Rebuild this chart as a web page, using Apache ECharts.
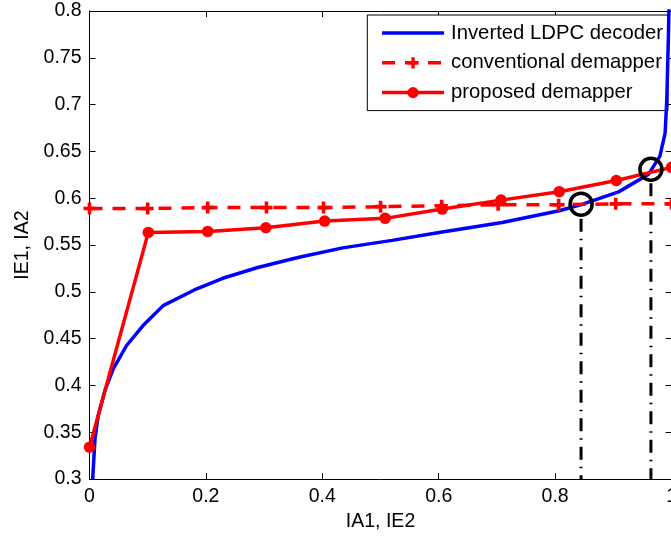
<!DOCTYPE html>
<html>
<head>
<meta charset="utf-8">
<script src="https://cdn.jsdelivr.net/npm/echarts@6/dist/echarts.min.js"></script>
<style>
html,body{margin:0;padding:0;overflow:hidden;background:#fff;width:671px;height:537px;}
#c{width:680px;height:537px;}
</style>
</head>
<body>
<div id="c"></div>
<script>
// ---- data ----
const seriesNames = ['Inverted LDPC decoder', 'conventional demapper', 'proposed demapper'];

const ldpcX = [0.0055, 0.0094, 0.015, 0.0266, 0.0408, 0.0637, 0.092, 0.1265, 0.18, 0.229, 0.289, 0.36, 0.435, 0.52, 0.6007, 0.709, 0.807, 0.8435, 0.909, 0.9606, 0.98, 0.989, 0.9918, 0.9947, 0.997];
const ldpcY = [0.3, 0.343, 0.368, 0.3947, 0.4178, 0.4427, 0.464, 0.4853, 0.502, 0.5145, 0.526, 0.537, 0.547, 0.555, 0.5635, 0.574, 0.5866, 0.593, 0.6068, 0.6257, 0.645, 0.67, 0.7056, 0.777, 0.85];

const convX = [0, 0.1, 0.203, 0.304, 0.402, 0.5, 0.605, 0.702, 0.806, 0.904, 1.0];
const convY = [0.589, 0.589, 0.590, 0.590, 0.590, 0.591, 0.592, 0.593, 0.593, 0.594, 0.594];

const propX = [0, 0.101, 0.203, 0.303, 0.404, 0.508, 0.606, 0.707, 0.807, 0.905, 1.0];
const propY = [0.334, 0.5635, 0.5646, 0.5685, 0.5756, 0.5785, 0.5884, 0.598, 0.607, 0.619, 0.633];

const circleX = [0.8445, 0.9645];
const circleY = [0.5937, 0.631];
const dropTopY = [0.578, 0.616];
const axisBottom = 0.3;

const xTicks = {min: 0, max: 1, interval: 0.2};
const yTicks = {min: 0.3, max: 0.8, interval: 0.05};

// ---- chart ----
const FONT = 'Liberation Sans';
const zip = (a, b) => a.map((v, i) => [v, b[i]]);
const plusPath = 'path://M3.5,0H6.5V3.5H10V6.5H6.5V10H3.5V6.5H0V3.5H3.5Z';

const axisCommon = {
  axisLine: {show: true, onZero: false, lineStyle: {color: '#000', width: 1}},
  axisTick: {show: true, inside: true, length: 6, lineStyle: {color: '#000', width: 1}},
  splitLine: {show: false}
};

const dropSeries = circleX.map((x, i) => ({
  type: 'line',
  data: [[x, dropTopY[i]], [x, axisBottom]],
  symbol: 'none',
  silent: true,
  z: 3,
  lineStyle: {color: '#000', width: 3, type: [13, 7, 1.5, 7]}
}));

const chart = echarts.init(document.getElementById('c'), null, {renderer: 'canvas'});
chart.setOption({
  animation: false,
  backgroundColor: '#fff',
  textStyle: {fontFamily: FONT},
  grid: {left: 89.5, top: 11, right: 6.5, bottom: 56.5, containLabel: false},
  legend: {
    data: [
      {name: seriesNames[0], itemStyle: {opacity: 0}},
      {name: seriesNames[1]},
      {name: seriesNames[2]}
    ],
    orient: 'vertical',
    left: 367.3,
    top: 15,
    padding: [8, 5, 8, 13],
    itemGap: 9.8,
    itemWidth: 62,
    itemHeight: 14,
    lineStyle: {width: 3.5},
    backgroundColor: '#fff',
    borderColor: '#000',
    borderWidth: 1,
    borderRadius: 0,
    textStyle: {fontFamily: FONT, fontSize: 20.3, color: '#000', lineHeight: 19, padding: [0, 0, 0, 2]}
  },
  xAxis: [
    Object.assign({
      type: 'value', position: 'bottom', min: xTicks.min, max: xTicks.max, interval: xTicks.interval,
      name: 'IA1, IE2', nameLocation: 'middle', nameGap: 30,
      nameTextStyle: {fontFamily: FONT, fontSize: 19.5, color: '#000'},
      axisLabel: {show: true, fontFamily: FONT, fontSize: 19.5, color: '#000', margin: 8}
    }, axisCommon),
    Object.assign({
      type: 'value', position: 'top', min: xTicks.min, max: xTicks.max, interval: xTicks.interval,
      axisLabel: {show: false}
    }, axisCommon)
  ],
  yAxis: [
    Object.assign({
      type: 'value', position: 'left', min: yTicks.min, max: yTicks.max, interval: yTicks.interval,
      name: 'IE1, IA2', nameLocation: 'middle', nameGap: 56,
      nameTextStyle: {fontFamily: FONT, fontSize: 19.5, color: '#000'},
      axisLabel: {show: true, fontFamily: FONT, fontSize: 19.5, color: '#000', margin: 8,
        formatter: v => String(Math.round(v * 100) / 100)}
    }, axisCommon),
    Object.assign({
      type: 'value', position: 'right', min: yTicks.min, max: yTicks.max, interval: yTicks.interval,
      axisLabel: {show: false}
    }, axisCommon)
  ],
  series: [
    {
      name: seriesNames[0], type: 'line', data: zip(ldpcX, ldpcY),
      symbol: 'none', z: 4,
      lineStyle: {color: '#0000ff', width: 3.5},
      itemStyle: {color: '#0000ff'}
    },
    {
      name: seriesNames[1], type: 'line', data: zip(convX, convY),
      symbol: plusPath, symbolSize: 12, showAllSymbol: true, z: 5,
      lineStyle: {color: '#ff0000', width: 3.5, type: [13, 10]},
      itemStyle: {color: '#ff0000'}
    },
    {
      name: seriesNames[2], type: 'line', data: zip(propX, propY),
      symbol: 'circle', symbolSize: 11.5, showAllSymbol: true, z: 6,
      lineStyle: {color: '#ff0000', width: 3.5},
      itemStyle: {color: '#ff0000'}
    },
    ...dropSeries,
    {
      type: 'scatter', data: zip(circleX, circleY), symbol: 'circle', symbolSize: 22, z: 8, silent: true,
      itemStyle: {color: 'rgba(0,0,0,0)', borderColor: '#000', borderWidth: 3.5, opacity: 1}
    }
  ]
});
</script>
</body>
</html>
